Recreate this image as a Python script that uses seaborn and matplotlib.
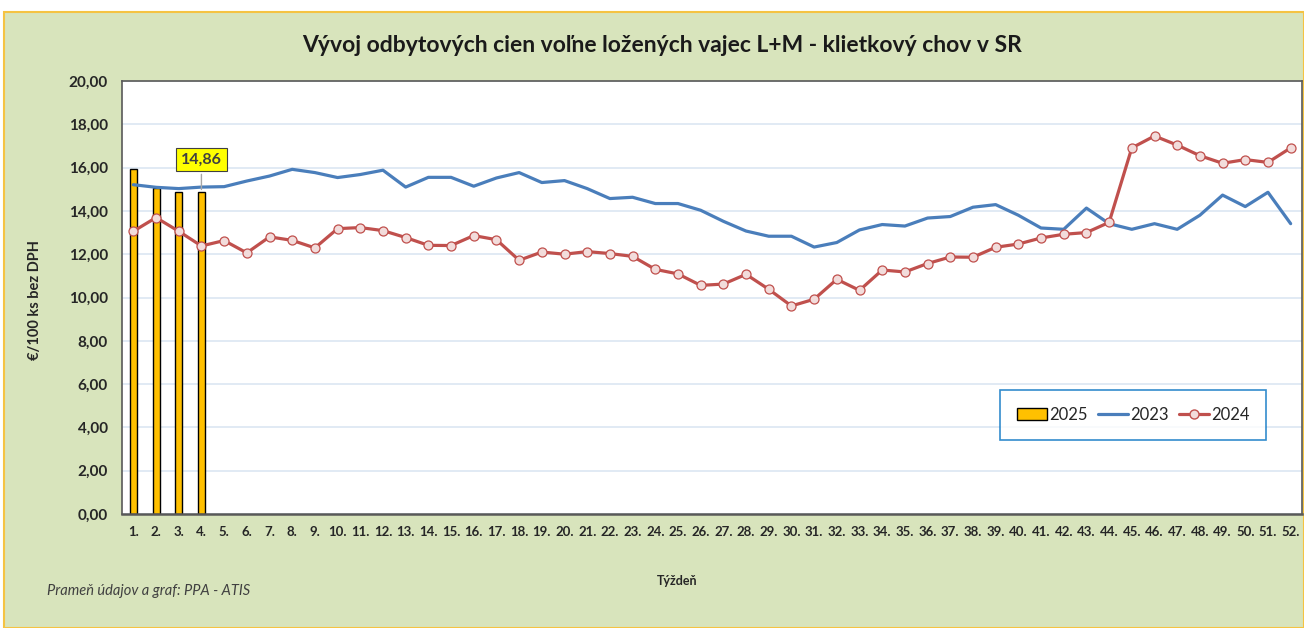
import numpy as np
import pandas as pd
import matplotlib
matplotlib.use('Agg')
import matplotlib.pyplot as plt
from matplotlib.patches import Rectangle, Patch
from matplotlib.lines import Line2D
import seaborn as sns

# week numbers and tick labels
weeks = list(range(1, 53))
week_labels = [f'{w}.' for w in weeks]

# 2025 - only the first four weeks so far
weeks_2025 = [1, 2, 3, 4]
price_2025 = [15.95, 15.04, 14.86, 14.86]

# 2023
price_2023 = [15.21, 15.09, 15.03, 15.10, 15.12, 15.38, 15.61, 15.92, 15.77, 15.54,
              15.68, 15.88, 15.10, 15.55, 15.55, 15.14, 15.52, 15.77, 15.31, 15.40,
              15.03, 14.57, 14.63, 14.34, 14.34, 14.03, 13.52, 13.07, 12.83, 12.83,
              12.33, 12.54, 13.12, 13.37, 13.30, 13.67, 13.74, 14.17, 14.29, 13.80,
              13.21, 13.15, 14.13, 13.41, 13.15, 13.41, 13.15, 13.80, 14.73, 14.20,
              14.86, 13.41]

# 2024
price_2024 = [13.06, 13.69, 13.06, 12.38, 12.63, 12.06, 12.80, 12.64, 12.29, 13.18,
              13.23, 13.09, 12.77, 12.41, 12.40, 12.86, 12.67, 11.72, 12.10, 12.00,
              12.12, 12.03, 11.90, 11.30, 11.09, 10.56, 10.62, 11.07, 10.38, 9.61,
              9.92, 10.84, 10.33, 11.27, 11.18, 11.57, 11.87, 11.86, 12.32, 12.47,
              12.75, 12.92, 13.00, 13.47, 16.91, 17.46, 17.04, 16.55, 16.20, 16.37,
              16.24, 16.91]

y_ticks = [0, 2, 4, 6, 8, 10, 12, 14, 16, 18, 20]

df25 = pd.DataFrame({'week': weeks_2025, 'price': price_2025})
df = pd.DataFrame({'week': weeks, 'y2023': price_2023, 'y2024': price_2024})

sns.set_style('white')
plt.rcParams['font.family'] = ['Lato', 'DejaVu Sans']

fig = plt.figure(figsize=(13.04, 6.28), dpi=100)
fig.patch.set_facecolor('white')
fig.add_artist(Rectangle((0.003, 0), 0.997, (628 - 12) / 628, transform=fig.transFigure,
                         facecolor='#D8E4BC', edgecolor='#F5C342', linewidth=1.5, zorder=0))

ax = fig.add_axes([122 / 1304, 1 - 514 / 628, 1180 / 1304, 433 / 628])
ax.set_facecolor('white')

sns.barplot(data=df25, x='week', y='price', native_scale=True, width=0.31,
            color='#FFC000', saturation=1, edgecolor='black', linewidth=1, ax=ax, zorder=2)
sns.lineplot(data=df, x='week', y='y2023', color='#4A7EBB', linewidth=2.3, ax=ax, zorder=3)
sns.lineplot(data=df, x='week', y='y2024', color='#C0504D', linewidth=2.3, marker='o',
             markersize=6.5, markerfacecolor='#F2DCDB', markeredgecolor='#C0504D',
             markeredgewidth=0.9, ax=ax, zorder=4)

ax.set_xlim(0.5, 52.5)
ax.set_ylim(0, 20)
ax.set_xticks(weeks)
ax.set_xticklabels(week_labels, fontsize=9.5, fontweight='bold')
ax.set_yticks(y_ticks)
ax.set_yticklabels([f'{v:.2f}'.replace('.', ',') for v in y_ticks], fontsize=11, fontweight='bold')
ax.tick_params(axis='both', length=0)
ax.tick_params(axis='y', pad=10)
ax.tick_params(axis='x', pad=9)
ax.yaxis.grid(True, color='#DCE6F2', linewidth=1.2, zorder=0)
ax.set_axisbelow(True)
ax.set_xlabel('')
ax.set_ylabel('')
for s in ax.spines.values():
    s.set_color('#595959')
    s.set_linewidth(1.2)
ax.spines['bottom'].set_linewidth(1.8)

# data label for last 2025 week
ax.annotate('14,86', xy=(4, 14.86), xytext=(4, 16.38), ha='center', va='center',
            fontsize=11.5, fontweight='bold', color='#404040',
            bbox=dict(boxstyle='square,pad=0.3', fc='#FFFF00', ec='#404040', lw=0.8),
            arrowprops=dict(arrowstyle='-', color='#A6A6A6', lw=1), zorder=6)

handles = [Patch(facecolor='#FFC000', edgecolor='black', linewidth=1),
           Line2D([], [], color='#4A7EBB', linewidth=2.3),
           Line2D([], [], color='#C0504D', linewidth=2.3, marker='o', markersize=6.5,
                  markerfacecolor='#F2DCDB', markeredgecolor='#C0504D')]
leg = ax.legend(handles, ['2025', '2023', '2024'], ncol=3, loc='center',
                bbox_to_anchor=(0.857, 0.229), fontsize=12, frameon=True, fancybox=False,
                handlelength=1.8, handletextpad=0.15, columnspacing=0.6,
                borderpad=1.0, borderaxespad=0)
leg.get_frame().set_edgecolor('#0070C0')
leg.get_frame().set_linewidth(1.2)

fig.text(0.508, 1 - 45 / 628, 'Vývoj odbytových cien voľne ložených vajec L+M - klietkový chov v SR',
         ha='center', va='center', fontsize=16.5, fontweight='bold', color='#1a1a1a')
fig.text(35 / 1304, 1 - 300 / 628, '€/100 ks bez DPH', rotation=90, ha='center', va='center',
         fontsize=10.5, fontweight='bold')
fig.text(677 / 1304, 1 - 581 / 628, 'Týždeň', ha='center', va='center', fontsize=9, fontweight='bold')
fig.text(47 / 1304, 1 - 591 / 628, 'Prameň údajov a graf: PPA - ATIS', ha='left', va='center',
         fontsize=10.5, style='italic', color='#404040')

fig.savefig('out.png', dpi=100)
